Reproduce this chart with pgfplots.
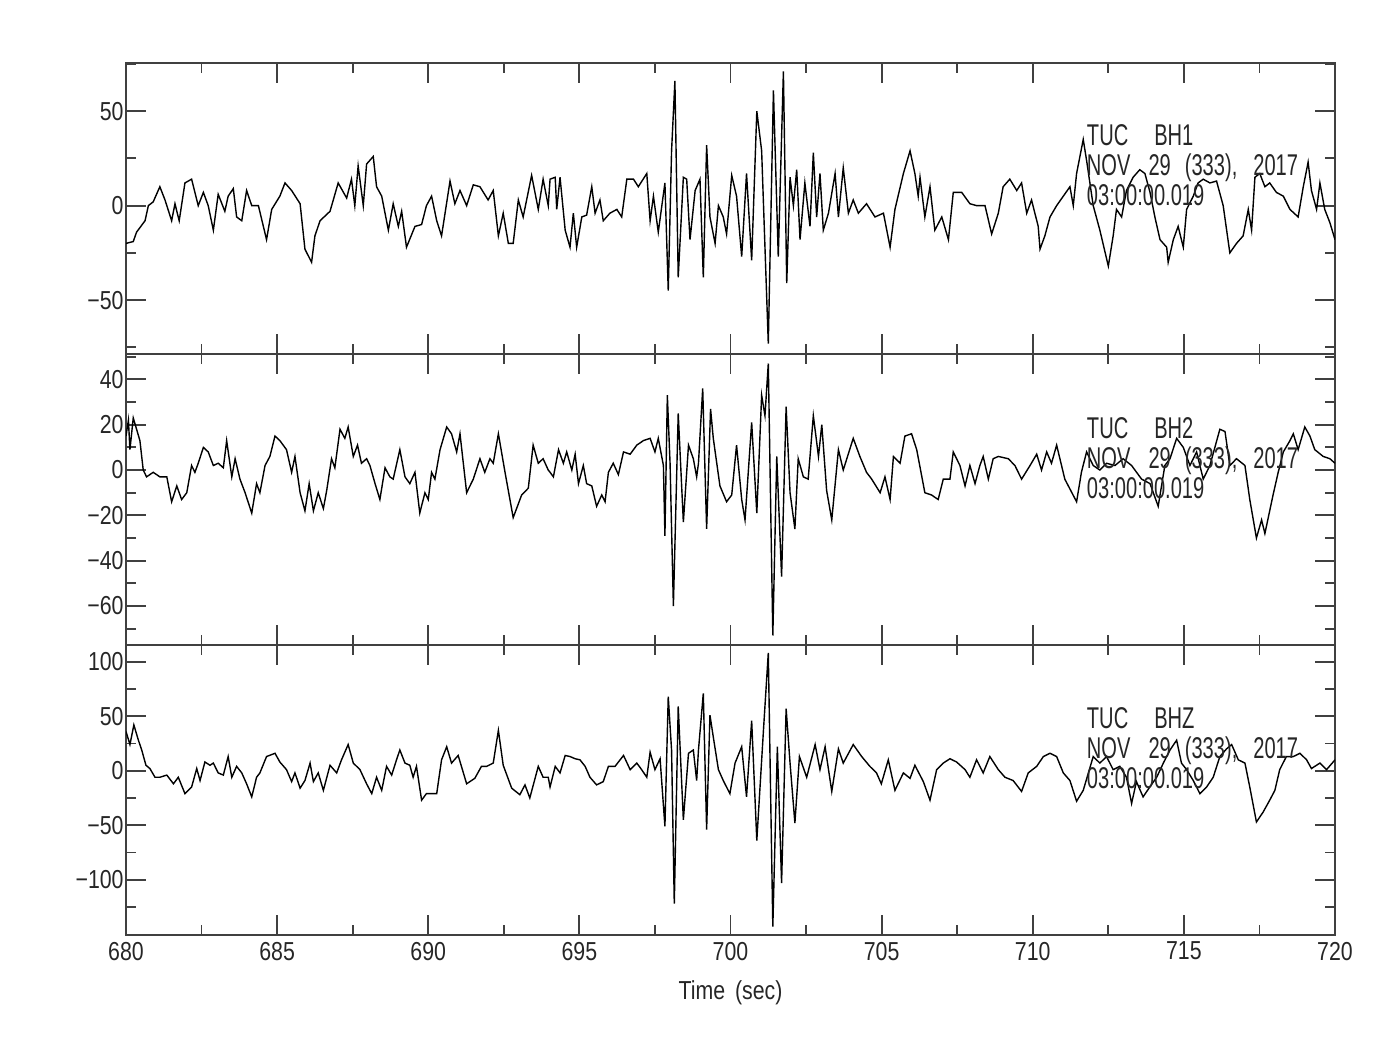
\documentclass[border=0pt]{standalone}
\usepackage{fontspec}
\setmainfont{Liberation Sans}
\newfontfamily\tickfont{Liberation Sans}[FakeStretch=0.82]
\newfontfamily\annfont{Liberation Sans}[FakeStretch=0.67]
\usepackage{pgfplots}
\pgfplotsset{compat=1.18}

\pgfplotsset{seis/.style={
  scale only axis, width=604.5pt, xmin=680, xmax=720,
  xtick={680,685,...,720},
  minor xtick={682.5,687.5,692.5,697.5,702.5,707.5,712.5,717.5},
  tick align=inside, xtick pos=both, ytick pos=both,
  major tick length=10pt, minor tick length=5pt,
  axis line style={line width=1pt, black!75},
  tick style={line width=0.9pt, black!75},
  minor tick style={line width=0.9pt, black!75},
  tick label style={font=\tickfont\fontsize{13}{15}\selectfont, text=black!85},
  yticklabel style={inner xsep=1pt},
  label style={font=\tickfont\fontsize{13}{15}\selectfont, text=black!85},
}}
\newcommand{\ann}[2]{%
  \node[anchor=west, inner sep=0pt, align=left,
        font=\annfont\fontsize{15}{15}\selectfont, text=black!85]
    at (axis cs:711.78,#1)
    {TUC\hspace{13pt}#2\\NOV\hspace{9pt}29\hspace{7pt}(333),\hspace{8pt}2017\\03:00:00.019};
}

\begin{document}
\begin{tikzpicture}
\path[use as bounding box] (0,0) rectangle (700pt,-525.5pt);

% ---------------- Panel 1: BH1 ----------------
\begin{axis}[seis, at={(63pt,-31.65pt)}, anchor=north west, height=145.35pt,
  ymin=-78.5, ymax=75.3, ytick={-50,0,50}, yticklabels={−50,0,50},
  minor ytick={-75,-25,25,75}, xticklabels={}]
\addplot[black, line width=0.7pt] table {
680.00 -20
680.24 -19
680.35 -14
680.63 -8
680.74 0
680.90 2
681.12 10
681.29 3
681.51 -8
681.62 1
681.76 -8
681.95 12
682.17 14
682.39 0
682.56 7
682.72 0
682.89 -13
683.05 6
683.27 -3
683.38 5
683.55 9
683.66 -6
683.83 -8
683.99 8
684.16 0
684.38 0
684.65 -18
684.82 -2
685.09 5
685.26 12
685.48 8
685.76 1
685.92 -23
686.14 -30
686.25 -16
686.42 -8
686.75 -3
687.02 12
687.30 4
687.46 14
687.57 0
687.68 21
687.85 0
687.96 22
688.18 26
688.29 10
688.46 5
688.68 -13
688.84 1
689.01 -11
689.12 -3
689.28 -22
689.56 -11
689.78 -10
689.94 0
690.11 5
690.28 -8
690.44 -16
690.72 13
690.88 1
691.05 8
691.27 0
691.49 11
691.71 10
691.98 3
692.15 8
692.32 -16
692.48 -4
692.65 -20
692.81 -20
692.98 3
693.14 -6
693.42 16
693.64 -2
693.80 14
693.97 0
694.03 14
694.20 15
694.25 -2
694.36 15
694.53 -13
694.69 -22
694.80 -4
694.91 -22
695.08 -6
695.24 -5
695.41 10
695.52 -4
695.68 3
695.79 -8
696.01 -4
696.24 -2
696.40 -6
696.57 14
696.79 14
696.95 10
697.23 17
697.34 -8
697.45 5
697.61 -14
697.83 12
697.94 -45
698.05 29
698.16 66
698.27 -38
698.44 15
698.55 14
698.66 -18
698.83 8
698.99 14
699.10 -38
699.21 32
699.32 -6
699.49 -20
699.60 0
699.76 -6
699.87 -15
700.04 16
700.20 5
700.37 -27
700.53 17
700.70 -29
700.87 50
701.03 29
701.25 -73
701.42 61
701.58 -27
701.75 71
701.86 -41
701.97 15
702.08 0
702.19 19
702.30 -18
702.46 12
702.63 -11
702.74 28
702.85 -6
702.96 17
703.07 -13
703.24 -4
703.46 17
703.57 -6
703.73 20
703.90 -4
704.06 3
704.23 -4
704.50 1
704.78 -6
705.06 -4
705.28 -22
705.44 -2
705.72 17
705.94 29
706.10 17
706.21 5
706.27 15
706.43 -6
706.60 10
706.76 -13
706.99 -6
707.21 -18
707.37 7
707.65 7
707.92 1
708.14 0
708.42 0
708.64 -15
708.86 -4
709.02 10
709.24 14
709.47 8
709.63 12
709.80 -4
709.96 3
710.18 -11
710.24 -23
710.40 -16
710.57 -6
710.79 0
711.01 5
711.23 10
711.34 0
711.45 17
711.67 35
711.78 24
712.00 0
712.22 -13
712.50 -32
712.66 -16
712.77 -2
712.94 -6
713.10 8
713.32 15
713.54 19
713.71 17
713.88 7
714.04 -6
714.21 -18
714.43 -22
714.48 -30
714.65 -18
714.81 -11
714.98 -22
715.09 -2
715.31 5
715.47 12
715.64 14
715.86 12
716.08 13
716.30 0
716.52 -25
716.74 -20
716.96 -16
717.13 -2
717.24 -13
717.35 15
717.51 17
717.68 10
717.84 12
718.06 7
718.29 5
718.51 -2
718.78 -6
718.95 10
719.11 23
719.22 8
719.39 -2
719.50 12
719.66 -2
719.83 -9
720.00 -18
};
\ann{21.5}{BH1}
\end{axis}

% ---------------- Panel 2: BH2 ----------------
\begin{axis}[seis, at={(63pt,-177pt)}, anchor=north west, height=145.5pt,
  ymin=-77.2, ymax=51.2, ytick={-60,-40,-20,0,20,40},
  yticklabels={−60,−40,−20,0,20,40},
  minor ytick={-70,-50,-30,-10,10,30,50}, xticklabels={}]
\addplot[black, line width=0.7pt] table {
680.00 15
680.08 22
680.13 9
680.24 23
680.35 18
680.46 13
680.57 0
680.68 -3
680.90 -1
681.12 -3
681.35 -3
681.51 -14
681.68 -7
681.84 -13
682.01 -10
682.17 2
682.28 -1
682.39 3
682.56 10
682.72 8
682.89 2
683.05 3
683.22 1
683.33 13
683.50 -3
683.61 5
683.77 -4
683.94 -10
684.16 -19
684.32 -6
684.43 -10
684.60 2
684.76 6
684.93 15
685.09 13
685.31 9
685.48 -1
685.59 6
685.76 -10
685.92 -18
686.06 -6
686.20 -18
686.36 -10
686.53 -17
686.64 -9
686.80 5
686.91 1
687.08 18
687.24 14
687.35 19
687.52 6
687.66 11
687.79 3
687.96 5
688.07 2
688.24 -6
688.40 -13
688.57 1
688.73 -3
688.84 -4
689.06 9
689.23 -3
689.39 -6
689.56 -1
689.72 -19
689.89 -10
690.00 -13
690.11 -1
690.22 -4
690.39 9
690.61 19
690.77 16
690.94 8
691.05 16
691.27 -10
691.49 -4
691.71 5
691.87 -1
692.04 5
692.15 3
692.32 16
692.54 -1
692.81 -21
693.09 -11
693.31 -8
693.47 11
693.64 3
693.80 5
693.97 0
694.03 -1
694.14 -3
694.31 9
694.47 3
694.58 8
694.75 0
694.86 7
694.97 -6
695.13 2
695.24 -6
695.41 -7
695.57 -16
695.74 -11
695.85 -14
695.96 -1
696.12 3
696.29 -2
696.46 8
696.68 7
696.90 11
697.12 13
697.34 14
697.50 8
697.61 14
697.78 2
697.83 -29
697.91 33
698.00 3
698.11 -60
698.27 25
698.44 -23
698.61 11
698.77 5
698.88 -3
698.94 3
699.08 36
699.21 -26
699.34 27
699.43 14
699.65 -7
699.87 -14
700.04 -11
700.20 11
700.37 -13
700.48 -22
700.70 21
700.87 -19
701.03 33
701.14 24
701.25 47
701.40 -73
701.53 6
701.69 -47
701.84 28
701.97 -10
702.13 -26
702.24 5
702.41 -3
702.57 -4
702.74 24
702.91 6
703.02 20
703.18 -9
703.35 -22
703.57 9
703.73 0
704.06 14
704.28 6
704.50 -1
704.67 -4
704.95 -10
705.11 -3
705.28 -13
705.39 6
705.61 3
705.77 15
705.99 16
706.16 9
706.43 -10
706.65 -11
706.87 -13
707.04 -4
707.26 -4
707.37 8
707.59 2
707.76 -7
707.92 2
708.09 -6
708.25 2
708.36 6
708.53 -4
708.69 5
708.86 6
709.19 5
709.41 2
709.63 -4
709.91 2
710.13 7
710.29 0
710.46 8
710.62 3
710.79 11
711.06 -4
711.45 -14
711.61 -1
711.78 8
712.00 2
712.22 0
712.44 3
712.72 2
712.99 5
713.27 2
713.60 -4
713.88 -6
714.15 -16
714.37 2
714.54 5
714.76 14
714.98 10
715.20 2
715.42 8
715.64 -4
715.86 2
716.19 18
716.36 17
716.52 2
716.74 5
717.02 2
717.18 -13
717.40 -30
717.57 -22
717.68 -28
717.95 -11
718.12 -1
718.29 8
718.51 13
718.62 16
718.78 9
719.00 19
719.17 15
719.33 9
719.61 6
719.83 5
720.00 3
};
\ann{5.3}{BH2}
\end{axis}

% ---------------- Panel 3: BHZ ----------------
\begin{axis}[seis, at={(63pt,-322.5pt)}, anchor=north west, height=145pt,
  ymin=-150.7, ymax=115.3, ytick={-100,-50,0,50,100},
  yticklabels={−100,−50,0,50,100},
  minor ytick={-125,-75,-25,25,75},
  xticklabels={680,685,690,695,700,705,710,715,720},
  xlabel={Time\hspace{5pt}(sec)}, xlabel style={yshift=-3pt}]
\addplot[black, line width=0.7pt] table {
680.00 36
680.13 24
680.26 42
680.41 28
680.52 19
680.66 5
680.79 2
680.96 -6
681.12 -6
681.35 -4
681.57 -12
681.73 -6
681.95 -21
682.17 -15
682.34 2
682.45 -9
682.61 8
682.78 5
682.89 7
683.05 -2
683.22 -4
683.38 13
683.50 -6
683.66 4
683.83 -2
683.99 -12
684.16 -24
684.32 -6
684.43 -2
684.65 13
684.93 16
685.09 8
685.31 1
685.48 -10
685.59 -2
685.76 -16
685.92 -9
686.09 7
686.20 -10
686.36 -2
686.53 -18
686.75 5
686.97 -2
687.13 10
687.35 24
687.52 7
687.74 1
687.96 -12
688.13 -21
688.29 -6
688.46 -18
688.62 4
688.79 -4
688.95 10
689.06 19
689.23 7
689.39 5
689.50 -6
689.61 4
689.78 -27
689.94 -21
690.28 -21
690.44 10
690.61 22
690.77 7
690.99 14
691.27 -12
691.54 -7
691.76 4
691.93 4
692.15 7
692.32 37
692.48 5
692.76 -16
693.03 -22
693.20 -13
693.36 -25
693.64 4
693.80 -6
693.97 -6
694.03 -15
694.20 4
694.36 -2
694.53 14
694.69 13
694.86 11
695.02 10
695.19 4
695.35 -6
695.57 -13
695.79 -10
695.96 4
696.18 4
696.46 14
696.68 1
696.90 7
697.06 1
697.23 -6
697.34 17
697.50 1
697.67 11
697.83 -51
697.94 68
698.05 19
698.14 -122
698.27 59
698.44 -45
698.61 16
698.77 19
698.88 -9
698.94 19
699.10 71
699.21 -54
699.32 51
699.43 31
699.60 1
699.76 -9
699.98 -21
700.15 7
700.37 22
700.53 -24
700.70 46
700.87 -64
701.09 37
701.25 108
701.40 -143
701.55 22
701.69 -103
701.84 57
701.97 7
702.13 -48
702.28 13
702.52 -6
702.80 24
702.96 1
703.13 22
703.35 -19
703.57 20
703.73 7
704.06 24
704.34 13
704.61 4
704.83 -2
704.99 -12
705.22 10
705.44 -18
705.72 -2
705.94 -7
706.10 5
706.38 -10
706.60 -27
706.82 1
707.04 7
707.26 11
707.48 8
707.76 1
707.92 -6
708.14 10
708.36 -2
708.58 13
708.86 1
709.08 -6
709.35 -9
709.63 -19
709.85 -2
710.13 4
710.35 13
710.57 16
710.79 13
711.01 -2
711.23 -9
711.45 -28
711.67 -18
711.84 -2
712.00 13
712.22 7
712.44 13
712.66 1
712.88 4
713.10 -6
713.27 -30
713.43 -10
713.65 -24
713.87 -15
714.10 -6
714.32 7
714.54 19
714.76 28
714.92 7
715.09 1
715.31 -9
715.53 -21
715.75 -15
715.97 -6
716.19 13
716.41 20
716.58 24
716.80 10
717.02 7
717.18 -15
717.40 -47
717.62 -38
717.84 -27
718.01 -18
718.17 1
718.39 13
718.62 13
718.84 16
719.06 10
719.22 2
719.50 7
719.72 1
720.00 10
};
\ann{20.8}{BHZ}
\end{axis}
\end{tikzpicture}
\end{document}
